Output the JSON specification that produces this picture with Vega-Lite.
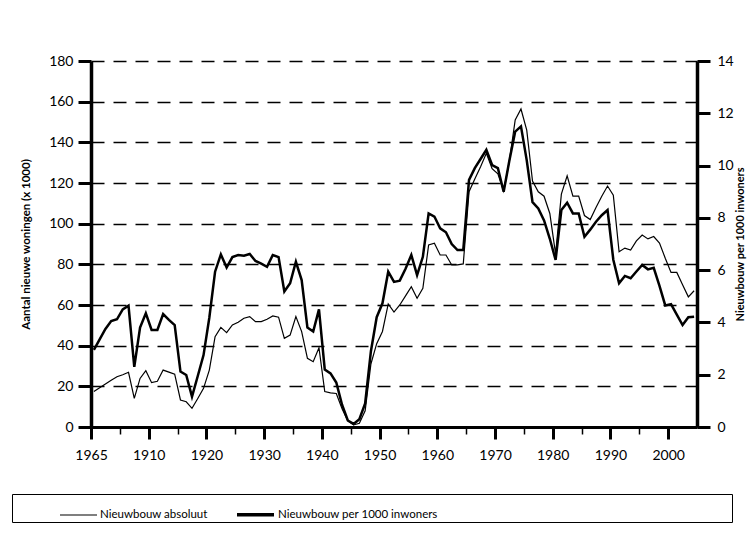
{
  "$schema": "https://vega.github.io/schema/vega-lite/v6.json",
  "width": 606,
  "height": 366,
  "autosize": {"type": "none"},
  "padding": {"left": 91, "top": 61, "right": 58, "bottom": 109},
  "background": "white",
  "config": {
    "font": "Lato",
    "view": {"stroke": null},
    "axis": {"labelFont": "Lato", "titleFont": "Lato", "labelColor": "black", "titleColor": "black", "domainColor": "black", "tickColor": "black"}
  },
  "data": {"values": [
    {"year":1900,"abs":17.4,"per":2.95},{"year":1901,"abs":19.3,"per":3.35},{"year":1902,"abs":21.2,"per":3.75},{"year":1903,"abs":23.0,"per":4.05},{"year":1904,"abs":24.7,"per":4.12},
    {"year":1905,"abs":25.7,"per":4.5},{"year":1906,"abs":26.9,"per":4.64},{"year":1907,"abs":14.1,"per":2.3},{"year":1908,"abs":23.9,"per":3.8},{"year":1909,"abs":27.7,"per":4.35},
    {"year":1910,"abs":21.8,"per":3.71},{"year":1911,"abs":22.5,"per":3.71},{"year":1912,"abs":28.0,"per":4.32},{"year":1913,"abs":27.0,"per":4.1},{"year":1914,"abs":26.0,"per":3.9},
    {"year":1915,"abs":13.3,"per":2.12},{"year":1916,"abs":12.4,"per":1.99},{"year":1917,"abs":9.2,"per":1.16},{"year":1918,"abs":14.0,"per":1.95},{"year":1919,"abs":19.0,"per":2.75},
    {"year":1920,"abs":28.0,"per":4.18},{"year":1921,"abs":44.4,"per":5.94},{"year":1922,"abs":49.0,"per":6.6},{"year":1923,"abs":46.4,"per":6.1},{"year":1924,"abs":50.2,"per":6.5},
    {"year":1925,"abs":51.5,"per":6.58},{"year":1926,"abs":53.5,"per":6.55},{"year":1927,"abs":54.3,"per":6.62},{"year":1928,"abs":51.8,"per":6.35},{"year":1929,"abs":51.8,"per":6.25},
    {"year":1930,"abs":53.0,"per":6.13},{"year":1931,"abs":54.6,"per":6.58},{"year":1932,"abs":54.0,"per":6.5},{"year":1933,"abs":43.6,"per":5.18},{"year":1934,"abs":45.2,"per":5.5},
    {"year":1935,"abs":54.3,"per":6.32},{"year":1936,"abs":46.9,"per":5.62},{"year":1937,"abs":33.8,"per":3.8},{"year":1938,"abs":32.1,"per":3.65},{"year":1939,"abs":39.0,"per":4.5},
    {"year":1940,"abs":17.4,"per":2.2},{"year":1941,"abs":16.8,"per":2.05},{"year":1942,"abs":16.5,"per":1.7},{"year":1943,"abs":9.0,"per":0.85},{"year":1944,"abs":3.0,"per":0.25},
    {"year":1945,"abs":1.0,"per":0.12},{"year":1946,"abs":1.8,"per":0.3},{"year":1947,"abs":8.0,"per":0.9},{"year":1948,"abs":31.0,"per":2.9},{"year":1949,"abs":41.0,"per":4.2},
    {"year":1950,"abs":47.0,"per":4.73},{"year":1951,"abs":60.5,"per":5.94},{"year":1952,"abs":56.5,"per":5.55},{"year":1953,"abs":60.0,"per":5.6},{"year":1954,"abs":64.5,"per":6.05},
    {"year":1955,"abs":69.0,"per":6.58},{"year":1956,"abs":63.3,"per":5.81},{"year":1957,"abs":68.2,"per":6.51},{"year":1958,"abs":89.5,"per":8.17},{"year":1959,"abs":90.4,"per":8.05},
    {"year":1960,"abs":84.6,"per":7.6},{"year":1961,"abs":84.6,"per":7.45},{"year":1962,"abs":79.7,"per":7.0},{"year":1963,"abs":79.7,"per":6.77},{"year":1964,"abs":80.2,"per":6.77},
    {"year":1965,"abs":115.7,"per":9.45},{"year":1966,"abs":122.0,"per":9.9},{"year":1967,"abs":128.0,"per":10.25},{"year":1968,"abs":134.6,"per":10.6},{"year":1969,"abs":127.0,"per":10.02},
    {"year":1970,"abs":124.5,"per":9.9},{"year":1971,"abs":116.0,"per":9.0},{"year":1972,"abs":131.0,"per":10.2},{"year":1973,"abs":151.0,"per":11.3},{"year":1974,"abs":156.4,"per":11.5},
    {"year":1975,"abs":146.0,"per":10.2},{"year":1976,"abs":121.0,"per":8.6},{"year":1977,"abs":115.7,"per":8.36},{"year":1978,"abs":113.5,"per":7.9},{"year":1979,"abs":105.0,"per":7.2},
    {"year":1980,"abs":85.0,"per":6.39},{"year":1981,"abs":114.5,"per":8.3},{"year":1982,"abs":123.5,"per":8.58},{"year":1983,"abs":113.5,"per":8.17},{"year":1984,"abs":113.6,"per":8.17},
    {"year":1985,"abs":104.0,"per":7.28},{"year":1986,"abs":102.0,"per":7.55},{"year":1987,"abs":108.0,"per":7.85},{"year":1988,"abs":113.5,"per":8.1},{"year":1989,"abs":118.5,"per":8.3},
    {"year":1990,"abs":114.0,"per":6.4},{"year":1991,"abs":86.2,"per":5.5},{"year":1992,"abs":88.0,"per":5.78},{"year":1993,"abs":87.0,"per":5.69},{"year":1994,"abs":91.5,"per":5.95},
    {"year":1995,"abs":94.4,"per":6.2},{"year":1996,"abs":92.5,"per":6.03},{"year":1997,"abs":93.7,"per":6.09},{"year":1998,"abs":90.5,"per":5.4},{"year":1999,"abs":83.0,"per":4.65},
    {"year":2000,"abs":76.0,"per":4.7},{"year":2001,"abs":76.0,"per":4.3},{"year":2002,"abs":70.0,"per":3.9},{"year":2003,"abs":64.0,"per":4.2},{"year":2004,"abs":67.0,"per":4.22}
  ]},
  "encoding": {
    "x": {
      "field": "year", "type": "quantitative",
      "scale": {"domain": [1899.5, 2004.5], "nice": false, "zero": false},
      "axis": {
        "title": null,
        "values": [1899.5,1904.5,1909.5,1914.5,1919.5,1924.5,1929.5,1934.5,1939.5,1944.5,1949.5,1954.5,1959.5,1964.5,1969.5,1974.5,1979.5,1984.5,1989.5,1994.5,1999.5],
        "labelExpr": "datum.value % 10 != 9.5 ? '' : (datum.value < 1900 ? '1965' : format(datum.value + 0.5, 'd'))",
        "labelOverlap": false,
        "labelBound": false,
        "labelFlush": false,
        "labelFontSize": 14,
        "labelPadding": 9,
        "domainWidth": 3,
        "tickSize": {"condition": {"test": "datum.value % 10 == 9.5", "value": 12}, "value": 7},
        "tickWidth": {"condition": {"test": "datum.value % 10 == 9.5", "value": 3}, "value": 1.5},
        "grid": false
      }
    }
  },
  "layer": [
    {
      "mark": {"type": "line", "color": "black", "strokeJoin": "miter"},
      "encoding": {
        "y": {
          "field": "abs", "type": "quantitative",
          "scale": {"domain": [0, 180], "nice": false},
          "axis": {
            "orient": "left",
            "title": "Aantal nieuwe woningen (x 1000)",
            "titleFontSize": 11.5, "titleFontWeight": "bold", "titlePadding": 17,
            "values": [0,20,40,60,80,100,120,140,160,180],
            "labelFontSize": 14, "labelPadding": 5,
            "domainWidth": 3.5, "tickSize": 13, "tickWidth": 3,
            "grid": true, "gridColor": "black", "gridDash": [13, 9], "gridWidth": 1.3, "gridOpacity": 1
          }
        },
        "strokeWidth": {
          "datum": "Nieuwbouw absoluut", "type": "nominal",
          "scale": {"type": "ordinal", "domain": ["Nieuwbouw absoluut", "Nieuwbouw per 1000 inwoners"], "range": [1.2, 3.5]},
          "legend": {
            "title": "\u00a0\u200b", "titleOrient": "left", "titlePadding": 47, "titleFontSize": 11,
            "orient": "none", "legendX": -79, "legendY": 433,
            "direction": "horizontal",
            "strokeColor": "black", "padding": 0,
            "symbolType": "stroke", "symbolSize": 1369, "symbolStrokeColor": "black",
            "labelFont": "Lato", "labelFontSize": 11.5, "labelColor": "black", "labelOffset": 2,
            "labelLimit": 700,
            "columnPadding": 22,
            "labelExpr": "datum.label == 'Nieuwbouw per 1000 inwoners' ? pad(datum.label, 61, '\u2003') + '\u200b' : datum.label"
          }
        }
      }
    },
    {
      "mark": {"type": "line", "color": "black", "strokeJoin": "miter"},
      "encoding": {
        "y": {
          "field": "per", "type": "quantitative",
          "scale": {"domain": [0, 14], "nice": false},
          "axis": {
            "orient": "right",
            "title": "Nieuwbouw per 1000 inwoners",
            "titleFontSize": 11, "titleFontWeight": "bold", "titlePadding": 1,
            "titleAngle": 270, "titleBaseline": "top",
            "values": [0,2,4,6,8,10,12,14],
            "labelFontSize": 14, "labelPadding": 7,
            "domainWidth": 3.5, "tickSize": 13, "tickWidth": 3,
            "grid": false
          }
        },
        "strokeWidth": {"datum": "Nieuwbouw per 1000 inwoners", "type": "nominal"}
      }
    }
  ],
  "resolve": {"scale": {"y": "independent"}}
}
